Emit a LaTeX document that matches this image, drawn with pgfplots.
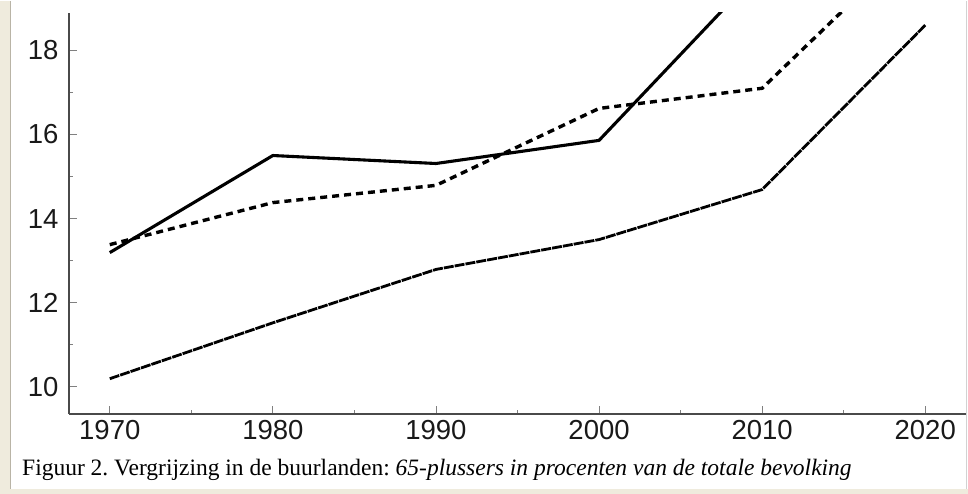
\documentclass[border=0pt]{standalone}
\usepackage{fontspec}
\setmainfont{Liberation Serif}
\newfontfamily\helv{Liberation Sans}
\usepackage{pgfplots}
\pgfplotsset{compat=1.18}

\definecolor{framebeige}{HTML}{EFEBDD}
\definecolor{framegray}{HTML}{B9B4A6}
\definecolor{axisgray}{HTML}{4A4A4A}

\begin{document}
\frenchspacing
\begin{tikzpicture}[x=1pt,y=1pt]
% page frame
\fill[white] (0,0) rectangle (968,493);
\fill[framebeige] (0,0) rectangle (10,493);
\fill[framebeige] (0,0) rectangle (968,5);
\draw[framegray, line width=1.2pt] (10.5,5) -- (10.5,493);
\draw[gray!35, line width=1pt] (966,5) -- (966,493);

\begin{axis}[
    at={(69pt,80pt)}, anchor=south west,
    scale only axis,
    width=897pt, height=401pt,
    axis lines=left,
    axis line style={-, axisgray, line width=1.8pt},
    xmin=1967.5, xmax=2022.5,
    ymin=9.36, ymax=18.9,
    xtick={1970,1980,...,2020},
    ytick={10,12,...,18},
    minor x tick num=1,
    minor y tick num=1,
    tick align=inside,
    major tick length=8pt,
    minor tick length=4pt,
    tick style={gray, line width=0.8pt},
    xticklabel style={font=\helv\fontsize{27.5}{29}\selectfont, text=black!90, yshift=-3pt},
    yticklabel style={font=\helv\fontsize{27.5}{29}\selectfont, text=black!90, xshift=-7pt},
    /pgf/number format/assume math mode=true,
    /pgf/number format/1000 sep={},
]
\addplot[black, line width=3.1pt, line join=round] coordinates {
  (1970,13.19) (1980,15.50) (1990,15.31) (2000,15.86) (2010,19.95)};
\addplot[black, line width=3.4pt, dash pattern=on 7pt off 5pt] coordinates {
  (1970,13.38) (1980,14.38) (1990,14.79) (2000,16.62) (2010,17.10) (2020,20.83)};
\addplot[black, line width=2.8pt, dash pattern=on 10pt off 1pt] coordinates {
  (1970,10.19) (1980,11.52) (1990,12.79) (2000,13.50) (2010,14.69) (2020,18.60)};
\end{axis}

\node[anchor=base west, inner sep=0pt, font=\fontsize{23.5}{25}\selectfont] at (22,18)
  {Figuur 2. Vergrijzing in de buurlanden: \textit{65-plussers in procenten van de totale bevolking}};
\end{tikzpicture}
\end{document}
